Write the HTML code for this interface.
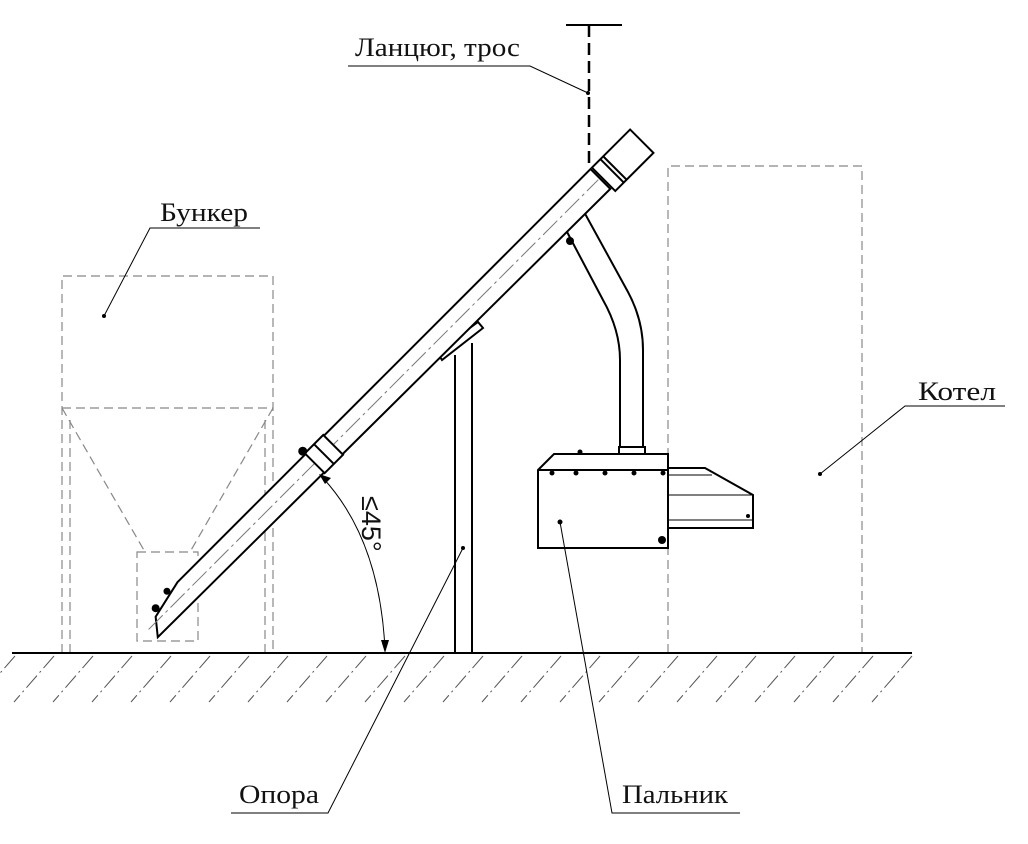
<!DOCTYPE html>
<html><head><meta charset="utf-8"><style>
html,body{margin:0;padding:0;background:#fff;}
svg{display:block;}
text{font-family:"Liberation Serif",serif;font-size:26px;fill:#111;}
</style></head><body>
<svg width="1028" height="844" viewBox="0 0 1028 844">
<g fill="none" stroke="#888" stroke-width="1.2" stroke-dasharray="9,5">
 <path d="M62,653 L62,276 L273,276 L273,653"/>
 <path d="M62,408 L273,408"/>
 <path d="M70,420 L70,653 M265,420 L265,653"/>
 <path d="M62,408 L145,552 M273,408 L190,552"/>
 <rect x="137" y="552" width="61" height="89"/>
 <path d="M668,653 L668,166 L862,166 L862,653"/>
</g>
<line x1="12" y1="653" x2="912" y2="653" stroke="#000" stroke-width="2"/>
<g stroke="#555" stroke-width="1" stroke-dasharray="16,4,2,4" id="h">
 <path d="M15,656 L-25,702 M54,656 L14,702 M93,656 L53,702 M132,656 L92,702 M171,656 L131,702 M210,656 L170,702 M249,656 L209,702 M288,656 L248,702 M327,656 L287,702 M366,656 L326,702 M405,656 L365,702 M444,656 L404,702 M483,656 L443,702 M522,656 L482,702 M561,656 L521,702 M600,656 L560,702 M639,656 L599,702 M678,656 L638,702 M717,656 L677,702 M756,656 L716,702 M795,656 L755,702 M834,656 L794,702 M873,656 L833,702 M912,656 L872,702"/>
</g>
<line x1="566" y1="25" x2="622" y2="25" stroke="#000" stroke-width="2"/>
<line x1="589" y1="25" x2="589" y2="163" stroke="#000" stroke-width="2.5" stroke-dasharray="12,6"/>
<g stroke="#000" stroke-width="2" fill="#fff">
 <path d="M455,355 L455,653 M472,343 L472,653"/>
 <path d="M437,352 L478,322 L483,328 L442,360 Z"/>
</g>
<g stroke="#000" stroke-width="2" fill="#fff">
 <path d="M566,230 L603,300 Q620,330 620,360 L620,450 L643,450 L643,350 Q643,320 628,292 L583,210 Z"/>
 <rect x="619" y="447" width="26" height="8"/>
</g>
<g transform="translate(389,389) rotate(-45)" stroke="#000" stroke-width="2" fill="#fff">
 <path d="M-286,-13 L298,-13 L298,15 L-339,12 L-326,-4 Z"/>
 <path d="M-340,0 L296,0" stroke="#777" stroke-width="1" stroke-dasharray="20,4,3,4"/>
 <rect x="-105" y="-14" width="26" height="28"/>
 <line x1="-92" y1="-14" x2="-92" y2="14"/>
 <rect x="300" y="-13" width="54" height="33"/>
 <line x1="312" y1="-13" x2="312" y2="20"/>
 <line x1="316" y1="-13" x2="316" y2="20"/>
 <circle cx="-105" cy="-17" r="3.5" fill="#000"/>
 <circle cx="-320" cy="-10" r="3" fill="#000"/>
 <circle cx="-300" cy="-14" r="2.5" fill="#000"/>
</g>
<circle cx="570" cy="241" r="4" fill="#000"/>
<g stroke="#000" stroke-width="2" fill="#fff">
 <path d="M668,468 L705,468 L753,495 L753,528 L668,528 Z"/>
 <path d="M668,475 L712,475 M668,520 L753,520 M668,495 L753,495" stroke-width="1"/>
 <path d="M538,470 L554,454 L668,454 L668,548 L538,548 Z"/>
 <line x1="538" y1="470" x2="668" y2="470"/>
</g>
<g fill="#000">
 <circle cx="552" cy="473" r="2.5"/><circle cx="576" cy="473" r="2.5"/><circle cx="605" cy="473" r="2.5"/><circle cx="634" cy="473" r="2.5"/><circle cx="663" cy="473" r="2.5"/>
 <circle cx="662" cy="540" r="4"/><circle cx="580" cy="452" r="2.5"/><circle cx="748" cy="516" r="2"/>
</g>
<g stroke="#000" stroke-width="1" fill="none">
 <path d="M323,478 Q380,540 385,650"/>
</g>
<path d="M319,474 L331,478 L325,484 Z" fill="#000"/>
<path d="M385,653 L381,640 L389,640 Z" fill="#000"/>
<text transform="translate(362,496) rotate(90)" style="font-family:'Liberation Sans',sans-serif;font-size:27px">≤45°</text>
<g stroke="#000" stroke-width="1" fill="none">
 <path d="M348,66 L530,66 L588,93"/>
 <path d="M260,228 L150,228 L104,316"/>
 <path d="M1005,406 L905,406 L820,474"/>
 <path d="M231,813 L328,813 L463,548"/>
 <path d="M740,813 L612,813 L560,522"/>
</g>
<g fill="#000"><circle cx="588" cy="93" r="2"/><circle cx="104" cy="316" r="2"/><circle cx="820" cy="474" r="2"/><circle cx="463" cy="548" r="2"/><circle cx="560" cy="522" r="2.5"/></g>
<text x="355" y="56" textLength="165" lengthAdjust="spacingAndGlyphs">Ланцюг, трос</text>
<text x="160" y="221" textLength="88" lengthAdjust="spacingAndGlyphs">Бункер</text>
<text x="918" y="400" textLength="78" lengthAdjust="spacingAndGlyphs">Котел</text>
<text x="239" y="803" textLength="80" lengthAdjust="spacingAndGlyphs">Опора</text>
<text x="622" y="803" textLength="106" lengthAdjust="spacingAndGlyphs">Пальник</text>
</svg>
</body></html>
